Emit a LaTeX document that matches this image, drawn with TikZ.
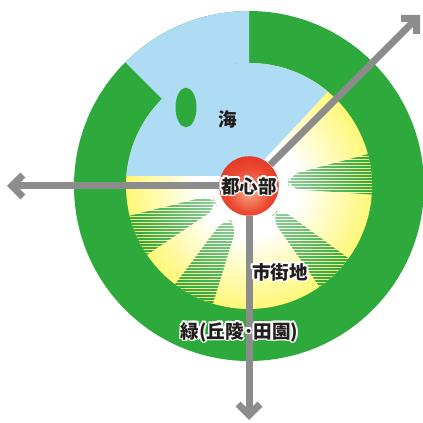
\documentclass[tikz,border=0pt]{standalone}
\usepackage{fontspec}
\newfontfamily\jp{Noto Sans CJK JP}
\usetikzlibrary{arrows.meta,calc,fadings}
\definecolor{ring}{RGB}{46,170,60}
\definecolor{sea}{RGB}{174,220,245}
\definecolor{sun}{RGB}{255,241,0}
\definecolor{road}{RGB}{140,140,140}
\definecolor{ink}{RGB}{35,30,30}
\definecolor{redlight}{RGB}{248,165,135}
\definecolor{redmid}{RGB}{236,75,50}
\definecolor{reddark}{RGB}{218,30,25}
\pgfdeclareradialshading{town}{\pgfpoint{0bp}{0bp}}{color(0bp)=(white); color(10bp)=(white); color(38bp)=(sun); color(50bp)=(sun)}
\pgfdeclareradialshading{redball}{\pgfpoint{0bp}{-6bp}}{color(0bp)=(redlight); color(18bp)=(redmid); color(42bp)=(reddark); color(50bp)=(reddark)}
\tikzfading[name=tipfade, inner color=transparent!35, outer color=transparent!100]
\newcommand\hl[3]{\rlap{\kern#1\raisebox{#2}{\textcolor{white}{#3}}}}
\newcommand\halotxt[1]{\hl{.85pt}{0pt}{#1}\hl{-.85pt}{0pt}{#1}\hl{0pt}{.85pt}{#1}\hl{0pt}{-.85pt}{#1}\hl{.6pt}{.6pt}{#1}\hl{-.6pt}{.6pt}{#1}\hl{.6pt}{-.6pt}{#1}\hl{-.6pt}{-.6pt}{#1}#1}
\begin{document}
\begin{tikzpicture}[x=0.5pt,y=0.5pt,
  lbl/.style={font=\jp\bfseries\fontsize{9.3pt}{10pt}\selectfont, text=ink, inner sep=0pt},
  roadline/.style={draw=road, line width=3.5pt, -{Straight Barb[length=5.5pt,width=11pt]}},
  hatch/.style={draw=ring, line width=0.7pt}]
\useasboundingbox (0,0) rectangle (423,423);
\coordinate (C) at (249,237);
% green belt
\fill[ring] (C) circle (175);
% town area
\shade[shading=town] (C) circle (123);
% sea, outer part
\fill[sea] ($(C)+(90:123)$) -- ($(C)+(90:175)$) arc[start angle=90,end angle=135,radius=175]
  -- ($(C)+(135:123)$) arc[start angle=135,end angle=90,radius=123] -- cycle;
\begin{scope}
  \clip (C) circle (123);
  \fill[sea] (249,247) -- (-10,247) -- (-10,500) -- (485,500) -- cycle;
  \foreach \a/\b/\d in {-4/15/40, -55/-36/38, -127/-107/40, -166/-146/38}{
    \begin{scope}
      \clip[rounded corners=6] ($(C)+(\a:\d)$) -- ($(C)+(\a:200)$) -- ($(C)+(\b:200)$) -- ($(C)+(\b:\d)$) -- cycle;
      \foreach \y in {40,43,...,420} \draw[hatch] (60,\y) -- (423,\y);
      \fill[white, path fading=tipfade] (C) circle (123);
    \end{scope}
  }
\end{scope}
% island
\fill[ring] (186,315.5) ellipse [x radius=10.5, y radius=19.8];
% centre
\node[circle, minimum size=29pt, inner sep=0pt, shade, shading=redball, lbl] (core) at (C) {\raisebox{1.5pt}{\halotxt{都心部}}};
\coordinate (westend) at (7,237);
\coordinate (southend) at (249,3);
\coordinate (northeast) at ($(C)+(45:242)$);
\draw[roadline] (core) -- (westend);
\draw[roadline] (core) -- (southend);
\draw[roadline] (core) -- (northeast);
% labels
\node[lbl] (seaLbl) at (228,304) {海};
\node[lbl] (townLbl) at (280,151) {\halotxt{市街地}};
\node[lbl] (greenLbl) at (239.5,91) {\halotxt{緑(丘陵･田園)}};
\end{tikzpicture}
\end{document}
